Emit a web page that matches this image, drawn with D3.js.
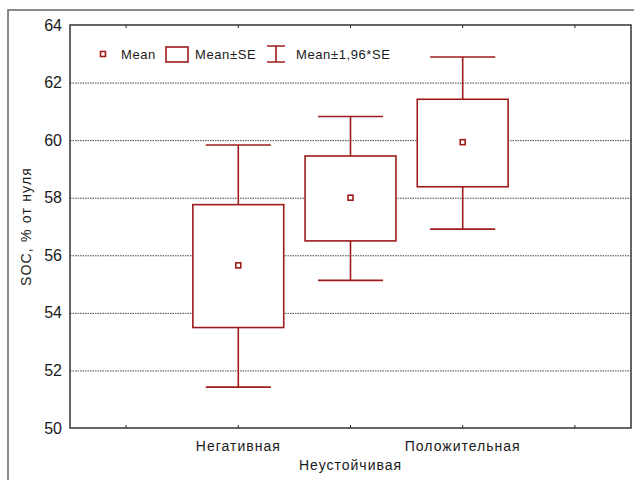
<!DOCTYPE html>
<html lang="ru">
<head>
<meta charset="UTF-8">
<title>SOC, % от нуля</title>
<script src="https://d3js.org/d3.v7.min.js"></script>
<style>
  body { margin: 0; background: #fff; }
  svg { display: block; font-family: "Liberation Sans", Arial, sans-serif; }
  .grid line { stroke: #444; stroke-dasharray: 1.5,1; stroke-width: 1; }
  .grid path { display: none; }
  .lbl { fill: #1a1a1a; }
  .mark { stroke: #9e1b1b; stroke-width: 1.6; fill: none; }
</style>
</head>
<body>
<div id="chart"></div>
<script>
// values
const categories = ["Негативная", "Неустойчивая", "Положительная"];
const means  = [55.65, 58.00, 59.93];
const seLow  = [53.49, 56.50, 58.38];
const seHigh = [57.76, 59.45, 61.42];
const ciLow  = [51.42, 55.13, 56.91];
const ciHigh = [59.83, 60.82, 62.89];
const yTicks = [50, 52, 54, 56, 58, 60, 62, 64];
const legendLabels = ["Mean", "Mean±SE", "Mean±1,96*SE"];
const yTitle = "SOC, % от нуля";

const W = 634, H = 480;
const plot = {left: 70, top: 25, right: 631, bottom: 428};
const red = "#9e1b1b";

const svg = d3.select("#chart").append("svg")
    .attr("width", W).attr("height", H);

// outer frame (left + top edges visible)
svg.append("path")
    .attr("d", `M8,${H}V10H${W}`)
    .attr("fill", "none").attr("stroke", "#666").attr("stroke-width", 1.5);

// x: two empty slots at both ends, ticks at every slot
const slots = ["_a", ...categories, "_b"];
const x = d3.scalePoint().domain(slots).range([plot.left, plot.right]).padding(0.5);
const step = x.step();

const y = d3.scaleLinear().domain([50, 64]).range([plot.bottom, plot.top]);

// dotted grid
svg.append("g").attr("class", "grid")
    .attr("transform", `translate(${plot.left},0)`)
    .call(d3.axisLeft(y).tickValues(yTicks.slice(1, -1)).tickSize(-(plot.right - plot.left)).tickFormat(""));

// y tick labels
svg.append("g").selectAll("text").data(yTicks).join("text")
    .attr("class", "lbl")
    .attr("x", 62).attr("y", d => y(d))
    .attr("dy", "0.35em")
    .attr("text-anchor", "end")
    .style("font-size", "16px")
    .text(d => d);

// y title
svg.append("text").attr("class", "lbl")
    .attr("transform", `translate(31,${(plot.top + plot.bottom) / 2}) rotate(-90)`)
    .attr("text-anchor", "middle")
    .style("font-size", "14px").style("letter-spacing", "1.2px")
    .text(yTitle);

// x ticks (inside, bottom and top)
const tk = svg.append("g").attr("stroke", "#222").attr("stroke-width", 1);
tk.selectAll(".tb").data(slots).join("line")
    .attr("x1", d => x(d)).attr("x2", d => x(d))
    .attr("y1", plot.bottom).attr("y2", plot.bottom - 3);
tk.selectAll(".tt").data(slots).join("line")
    .attr("x1", d => x(d)).attr("x2", d => x(d))
    .attr("y1", plot.top).attr("y2", plot.top + 3);

// category labels, alternating rows
svg.append("g").selectAll("text").data(categories).join("text")
    .attr("class", "lbl")
    .attr("x", d => x(d))
    .attr("y", (d, i) => i % 2 ? 470 : 451)
    .attr("text-anchor", "middle")
    .style("font-size", "14px").style("letter-spacing", "1px")
    .text(d => d);

// boxes and whiskers
const boxW = step * 0.81, capW = step * 0.58;
const g = svg.append("g");
categories.forEach((c, i) => {
    const cx = x(c);
    g.append("line").attr("class", "mark")
        .attr("x1", cx).attr("x2", cx).attr("y1", y(ciHigh[i])).attr("y2", y(seHigh[i]));
    g.append("line").attr("class", "mark")
        .attr("x1", cx).attr("x2", cx).attr("y1", y(seLow[i])).attr("y2", y(ciLow[i]));
    g.append("line").attr("class", "mark")
        .attr("x1", cx - capW / 2).attr("x2", cx + capW / 2).attr("y1", y(ciHigh[i])).attr("y2", y(ciHigh[i]));
    g.append("line").attr("class", "mark")
        .attr("x1", cx - capW / 2).attr("x2", cx + capW / 2).attr("y1", y(ciLow[i])).attr("y2", y(ciLow[i]));
    g.append("rect").attr("class", "mark")
        .attr("x", cx - boxW / 2).attr("width", boxW)
        .attr("y", y(seHigh[i])).attr("height", y(seLow[i]) - y(seHigh[i]))
        .style("fill", "#fff");
    g.append("rect").attr("class", "mark")
        .attr("x", cx - 2.5).attr("y", y(means[i]) - 2.5)
        .attr("width", 5).attr("height", 5).style("fill", "#fff");
});

// plot frame
svg.append("rect")
    .attr("x", plot.left).attr("y", plot.top)
    .attr("width", plot.right - plot.left).attr("height", plot.bottom - plot.top)
    .attr("fill", "none").attr("stroke", "#333").attr("stroke-width", 1.5);

// legend
const lg = svg.append("g").style("font-size", "13px");
lg.append("rect").attr("class", "mark")
    .attr("x", 100.5).attr("y", 51.5).attr("width", 5).attr("height", 5).style("fill", "#fff");
lg.append("rect").attr("class", "mark")
    .attr("x", 166).attr("y", 47).attr("width", 22).attr("height", 15);
lg.append("path").attr("class", "mark")
    .attr("d", "M267,46H285M276,46V62M267,62H285");
lg.selectAll("text").data(legendLabels).join("text")
    .attr("class", "lbl")
    .attr("x", (d, i) => [121, 195, 296][i])
    .attr("y", 59)
    .style("letter-spacing", "0.6px")
    .text(d => d);
</script>
</body>
</html>
